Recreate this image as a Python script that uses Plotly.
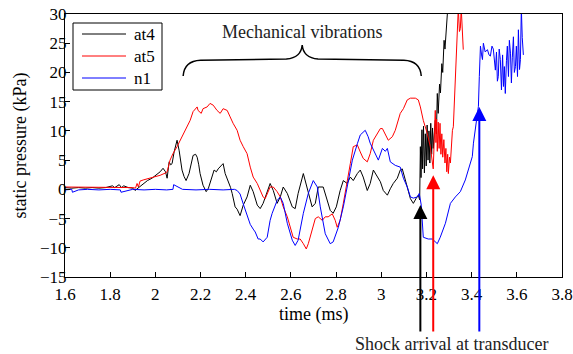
import plotly.graph_objects as go

# ---- data (time in ms, static pressure in kPa) ----
at4_t = [1.600, 1.630, 1.660, 1.690, 1.720, 1.750, 1.780, 1.810, 1.820, 1.840, 1.850, 1.860, 1.880, 1.900,
         1.910, 1.920, 1.932, 1.946, 1.965, 1.985, 2.005, 2.021, 2.034, 2.045, 2.052, 2.058, 2.061, 2.068,
         2.074, 2.083, 2.096, 2.105, 2.112, 2.118, 2.127, 2.136, 2.149, 2.160, 2.167, 2.178, 2.185, 2.192,
         2.198, 2.211, 2.225, 2.235, 2.242, 2.252, 2.260, 2.270, 2.278, 2.290, 2.300, 2.309, 2.322, 2.333,
         2.340, 2.353, 2.362, 2.375, 2.389, 2.406, 2.420, 2.433, 2.451, 2.464, 2.477, 2.495, 2.508, 2.522,
         2.539, 2.553, 2.566, 2.584, 2.606, 2.619, 2.632, 2.655, 2.663, 2.677, 2.694, 2.708, 2.721, 2.743,
         2.761, 2.774, 2.787, 2.801, 2.818, 2.832, 2.849, 2.863, 2.876, 2.894, 2.907, 2.920, 2.938, 2.951,
         2.965, 2.982, 2.996, 3.009, 3.027, 3.040, 3.053, 3.071, 3.084, 3.093, 3.106, 3.115, 3.129, 3.142,
         3.155, 3.164, 3.170, 3.173, 3.176, 3.180, 3.183, 3.187, 3.191, 3.195, 3.199, 3.203, 3.207, 3.211,
         3.215, 3.219, 3.223, 3.227, 3.230, 3.234, 3.239, 3.244, 3.248, 3.252, 3.258, 3.262, 3.268, 3.272,
         3.278, 3.282, 3.290, 3.296]
at4_p = [0.3, 0.2, 0.3, 0.2, 0.3, 0.2, 0.3, 0.6, 0.3, 0.8, 0.3, 0.6, 0.3, 0.2,
         -0.2, 0.1, 0.6, 1.0, 1.5, 1.9, 2.5, 3.0, 3.6, 3.0, 1.9, 3.5, 4.7, 4.2,
         4.4, 6.4, 8.4, 6.7, 4.5, 3.3, 2.2, 1.5, 2.7, 4.5, 5.8, 6.0, 5.5, 4.2,
         2.7, 0.7, -0.4, 0.2, 1.0, 2.2, 3.3, 3.0, 3.5, 4.0, 4.4, 2.7, 1.5, 0.3,
         -0.7, -3.0, -3.4, -4.5, -2.7, -1.3, 0.7, -0.4, -2.7, -3.3, -2.4, -0.2, 1.0, -0.2,
         -2.4, -1.3, 0.4, -0.7, -3.0, -3.3, -0.7, 2.7, 1.5, -0.7, -3.0, -2.4, 0.4, 0.4,
         -1.9, -3.6, -4.1, -3.0, -0.2, 1.5, 1.0, 2.1, 1.5, 2.7, 3.3, 2.1, -0.2, 1.0,
         3.3, 2.1, 1.3, -0.2, -1.0, 0.1, 1.0, 1.9, 3.3, 3.5, 1.9, 0.4, -1.6, -2.4,
         -1.5, -1.0, -1.8, 7.3, 2.0, 10.2, 3.5, 10.8, 2.8, 9.5, 4.0, 11.0, 5.0, 10.0,
         4.5, 11.3, 6.0, 10.5, 7.0, 10.0, 11.8, 9.5, 16.4, 13.0, 18.0, 16.5, 21.5, 20.0,
         25.5, 24.0, 29.5, 32.0]

at5_t = [1.600, 1.650, 1.700, 1.750, 1.800, 1.850, 1.900, 1.912, 1.919, 1.925, 1.932, 1.946, 1.963, 1.990,
         2.021, 2.045, 2.052, 2.065, 2.078, 2.096, 2.110, 2.123, 2.141, 2.154, 2.167, 2.185, 2.189, 2.203,
         2.211, 2.229, 2.242, 2.256, 2.273, 2.287, 2.300, 2.318, 2.331, 2.344, 2.362, 2.375, 2.389, 2.406,
         2.420, 2.433, 2.451, 2.464, 2.477, 2.486, 2.500, 2.508, 2.522, 2.539, 2.553, 2.566, 2.584, 2.597,
         2.610, 2.628, 2.641, 2.655, 2.668, 2.677, 2.694, 2.708, 2.721, 2.739, 2.752, 2.765, 2.783, 2.796,
         2.805, 2.818, 2.832, 2.849, 2.863, 2.876, 2.894, 2.907, 2.920, 2.938, 2.951, 2.965, 2.982, 2.996,
         3.005, 3.018, 3.031, 3.049, 3.062, 3.084, 3.098, 3.115, 3.129, 3.151, 3.164, 3.173, 3.186, 3.204,
         3.217, 3.230, 3.235, 3.239, 3.242, 3.245, 3.248, 3.252, 3.256, 3.260, 3.264, 3.268, 3.272, 3.277,
         3.282, 3.286, 3.290, 3.294, 3.297, 3.302, 3.306, 3.310, 3.315, 3.319, 3.324, 3.328, 3.333, 3.337,
         3.341, 3.346, 3.350, 3.354, 3.359, 3.363]
at5_p = [0.4, 0.4, 0.3, 0.4, 0.3, 0.4, 0.3, 0.2, 1.0, 0.4, 1.4, 1.6, 1.8, 2.0,
         2.4, 2.8, 3.0, 5.0, 6.1, 7.3, 8.4, 9.5, 10.7, 11.8, 13.3, 14.1, 13.5, 13.0,
         13.8, 14.1, 14.7, 14.4, 13.5, 13.0, 13.8, 13.5, 12.4, 11.3, 10.1, 8.4, 7.3, 6.1,
         3.8, 2.1, 1.0, -0.2, -1.3, -1.6, -0.5, 0.4, 0.4, -0.4, -1.3, -3.0, -4.7, -6.5,
         -8.2, -8.5, -8.5, -9.3, -10.2, -9.3, -7.0, -5.0, -4.7, -5.3, -4.7, -4.7, -4.2, -5.3,
         -6.5, -5.3, -2.4, 1.0, 4.4, 7.3, 7.6, 6.4, 5.3, 4.7, 6.1, 8.4, 9.5, 10.4,
         10.4, 9.3, 8.4, 9.0, 10.1, 13.0, 13.8, 15.3, 15.6, 15.6, 15.3, 14.1, 11.8, 9.5,
         7.3, 3.5, 8.0, 13.5, 8.0, 12.0, 6.5, 11.5, 7.0, 11.3, 6.0, 9.5, 5.5, 8.5,
         4.5, 7.0, 3.0, 6.0, 2.7, 5.5, 4.5, 8.0, 10.1, 10.7, 15.0, 19.3, 23.0, 26.1,
         31.0, 27.0, 27.5, 31.0, 25.0, 23.9]

n1_t = [1.600, 1.630, 1.633, 1.660, 1.700, 1.750, 1.800, 1.845, 1.848, 1.900, 1.950, 2.000, 2.050, 2.078,
        2.081, 2.120, 2.180, 2.240, 2.300, 2.350, 2.362, 2.375, 2.389, 2.406, 2.420, 2.433, 2.442, 2.455,
        2.464, 2.477, 2.495, 2.508, 2.517, 2.539, 2.553, 2.566, 2.584, 2.606, 2.619, 2.632, 2.655, 2.677,
        2.699, 2.717, 2.730, 2.752, 2.774, 2.787, 2.810, 2.832, 2.854, 2.872, 2.894, 2.907, 2.929, 2.942,
        2.951, 2.974, 2.987, 3.005, 3.018, 3.027, 3.040, 3.062, 3.084, 3.098, 3.115, 3.129, 3.142, 3.160,
        3.168, 3.177, 3.186, 3.208, 3.226, 3.248, 3.261, 3.284, 3.306, 3.328, 3.350, 3.372, 3.385, 3.403,
        3.408, 3.421, 3.430, 3.434, 3.439, 3.444, 3.448, 3.452, 3.460, 3.470, 3.477, 3.483, 3.490, 3.496,
        3.500, 3.505, 3.510, 3.514, 3.518, 3.522, 3.527, 3.532, 3.537, 3.541, 3.545, 3.549, 3.554, 3.558,
        3.563, 3.567, 3.572, 3.576, 3.580, 3.585, 3.589, 3.594, 3.598, 3.603, 3.607, 3.612, 3.616, 3.620,
        3.624, 3.629]
n1_p = [-0.1, 0.0, -0.5, -0.1, 0.0, -0.1, 0.0, -0.1, -0.5, 0.0, -0.1, 0.0, -0.1, 0.0,
        0.8, 0.0, -0.1, 0.0, -0.1, 0.0, -0.2, -0.8, -2.5, -4.5, -6.0, -6.8, -7.3, -8.5,
        -8.5, -9.0, -8.2, -5.3, -4.1, -1.9, -1.3, -2.4, -5.8, -8.7, -9.6, -8.7, -4.1, -0.7,
        1.5, 0.4, -3.0, -7.6, -9.3, -9.0, -6.5, -3.0, 1.5, 5.0, 7.8, 9.3, 10.1, 9.0,
        7.9, 6.1, 5.0, 7.0, 6.5, 7.0, 4.7, 4.1, 3.8, 1.9, 0.4, -1.3, -1.5, -1.3,
        -0.7, -2.7, -8.2, -8.5, -8.5, -9.3, -8.2, -5.8, -2.4, -1.3, -0.4, 1.6, 3.3, 5.6,
        7.9, 11.4, 14.2, 19.3, 24.5, 23.0, 22.2, 25.0, 23.5, 23.9, 23.0, 22.8, 24.5, 24.0,
        21.5, 20.4, 23.5, 18.5, 19.3, 24.0, 22.2, 17.0, 23.0, 17.6, 21.0, 16.4, 22.0, 24.5,
        19.3, 25.5, 23.3, 18.2, 22.5, 26.1, 20.0, 21.0, 24.5, 19.3, 27.3, 20.5, 22.2, 31.0,
        26.0, 23.0]

series_names = ["at4", "at5", "n1"]
series_colors = ["#000000", "#ff0000", "#0000ff"]

# shock arrival markers: (time, pressure at arrow tip)
arrival_t = [3.173, 3.230, 3.434]
arrival_p = [-2.7, 2.4, 14.1]

x_ticks = [1.6, 1.8, 2.0, 2.2, 2.4, 2.6, 2.8, 3.0, 3.2, 3.4, 3.6, 3.8]
x_tick_text = ["1.6", "1.8", "2", "2.2", "2.4", "2.6", "2.8", "3", "3.2", "3.4", "3.6", "3.8"]
y_ticks = [-15, -10, -5, 0, 5, 10, 15, 20, 25, 30]
y_tick_text = ["\u221215", "\u221210", "\u22125", "0", "5", "10", "15", "20", "25", "30"]

FONT = "Liberation Serif, Times New Roman, serif"
FS = 18      # annotation / title text
FS_TICK = 17  # tick labels and legend
W, H = 573, 354
PLOT_TOP, PLOT_BOTTOM = 14, 277  # pixel rows of the plot area
PLOT_LEFT, PLOT_RIGHT = 65, 562


def px_x(px):
    return (px - PLOT_LEFT) / (PLOT_RIGHT - PLOT_LEFT)


def px_y(py):
    return 1 - (py - PLOT_TOP) / (PLOT_BOTTOM - PLOT_TOP)


fig = go.Figure()
for t, p, name, col in zip([at4_t, at5_t, n1_t], [at4_p, at5_p, n1_p], series_names, series_colors):
    fig.add_trace(go.Scatter(x=t, y=p, mode="lines", name=name, showlegend=False,
                             line=dict(color=col, width=1)))

# legend box (drawn to match the reference's compact MATLAB-style legend)
fig.add_shape(type="rect", xref="paper", yref="paper",
              x0=px_x(73), x1=px_x(162), y0=px_y(90), y1=px_y(23),
              line=dict(color="black", width=1), fillcolor="white", layer="above")
for i, (name, col) in enumerate(zip(series_names, series_colors)):
    yy = px_y(34 + 22 * i)
    fig.add_shape(type="line", xref="paper", yref="paper", x0=px_x(82), x1=px_x(126),
                  y0=yy, y1=yy, line=dict(color=col, width=1), layer="above")
    fig.add_annotation(x=px_x(132), y=yy, xref="paper", yref="paper", text=name,
                       xanchor="left", yanchor="middle", showarrow=False,
                       font=dict(family=FONT, size=FS_TICK, color="black"))

# arrows indicating shock arrival (tails end 56 px below the axis)
for t, p, col in zip(arrival_t, arrival_p, series_colors):
    fig.add_annotation(x=t, y=p, xref="x", yref="y", ax=0,
                       ay=(PLOT_BOTTOM - PLOT_TOP) * (p + 15) / 45 + 56,
                       axref="pixel", ayref="pixel", showarrow=True, arrowhead=2,
                       arrowsize=1.4, arrowwidth=2, arrowcolor=col, text="")

# brace over the mechanical vibrations region
brace = ("M 2.123,19.4 Q 2.128,22.0 2.20,22.1 L 2.58,22.3 Q 2.645,22.5 2.650,24.7 "
         "Q 2.655,22.5 2.72,22.3 L 3.10,22.1 Q 3.172,22.0 3.177,19.4")
fig.add_shape(type="path", path=brace, xref="x", yref="y",
              line=dict(color="black", width=1.5))

fig.add_annotation(x=2.65, y=26.9, xref="x", yref="y", text="Mechanical vibrations",
                   xanchor="center", yanchor="middle",
                   showarrow=False, font=dict(family=FONT, size=FS, color="#222"))
fig.add_annotation(x=px_x(451), y=px_y(344), xref="paper", yref="paper",
                   text="Shock arrival at transducer", xanchor="center", yanchor="middle",
                   showarrow=False, font=dict(family=FONT, size=FS, color="#222"))
# axis titles
fig.add_annotation(x=0.5, y=px_y(314), xref="paper", yref="paper", text="time (ms)",
                   xanchor="center", yanchor="middle",
                   showarrow=False, font=dict(family=FONT, size=FS, color="black"))
fig.add_annotation(x=px_x(20), y=0.5, xref="paper", yref="paper",
                   text="static pressure (kPa)", textangle=-90, xanchor="center", yanchor="middle",
                   showarrow=False, font=dict(family=FONT, size=FS, color="black"))

axis_common = dict(showline=True, mirror=True, linecolor="black", linewidth=1,
                   ticks="inside", ticklen=5, tickcolor="black", showgrid=False, zeroline=False,
                   automargin=False, ticklabeloverflow="allow",
                   tickfont=dict(family=FONT, size=FS_TICK, color="black"))

fig.update_layout(
    width=W, height=H,
    margin=dict(l=PLOT_LEFT, r=W - PLOT_RIGHT, t=PLOT_TOP, b=H - PLOT_BOTTOM),
    paper_bgcolor="white", plot_bgcolor="white",
    font=dict(family=FONT, size=FS, color="black"),
    showlegend=False,
    xaxis=dict(range=[1.6, 3.8], tickvals=x_ticks, ticktext=x_tick_text,
               ticklabelstandoff=2, **axis_common),
    yaxis=dict(range=[-15, 30], tickvals=y_ticks, ticktext=y_tick_text,
               ticklabelstandoff=-6, **axis_common),
)

fig.write_html("out.html", post_script="document.body.style.margin='0';",
               config={"displayModeBar": False})
